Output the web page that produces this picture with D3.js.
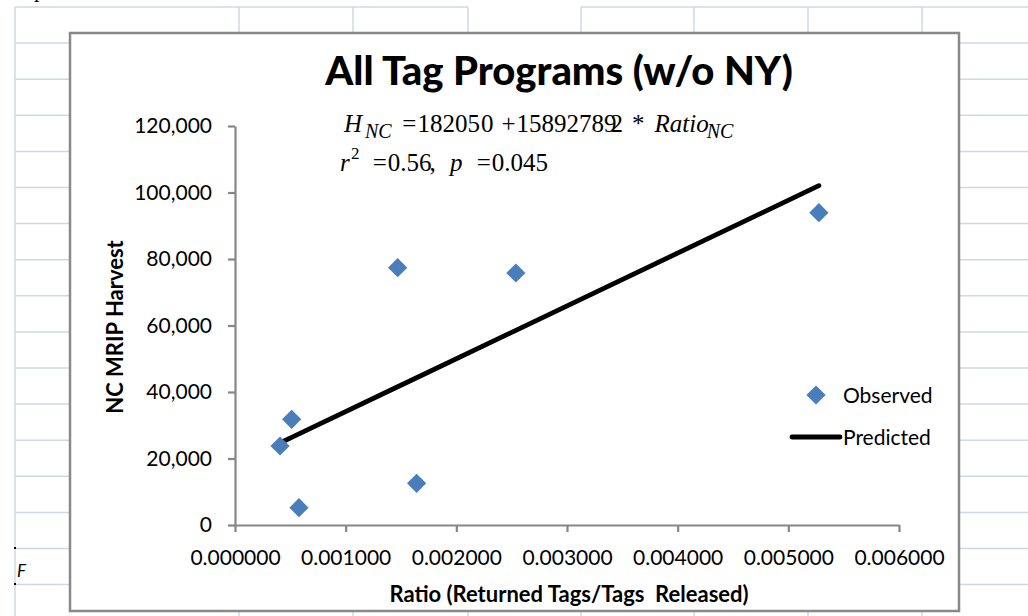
<!DOCTYPE html>
<html><head><meta charset="utf-8">
<script src="https://cdn.jsdelivr.net/npm/d3@7"></script>
<style>body{margin:0;background:#fff} svg{display:block}</style>
</head><body><svg id="c" width="1028" height="616"></svg>
<script>
// ---- data ----
const ratio     = [0.000407, 0.000512, 0.000578, 0.001470, 0.001641, 0.002538, 0.005276];
const harvest   = [23760, 31790, 5200, 77380, 12540, 75790, 93920];
const predicted = [24670, 26340, 27390, 41570, 44290, 58540, 102060];
const xTicks = [0, 0.001, 0.002, 0.003, 0.004, 0.005, 0.006];
const xTickLabels = ["0.000000","0.001000","0.002000","0.003000","0.004000","0.005000","0.006000"];
const yTicks = [0, 20000, 40000, 60000, 80000, 100000, 120000];
const yTickLabels = ["0","20,000","40,000","60,000","80,000","100,000","120,000"];
const title = "All Tag Programs (w/o NY)";
const xTitle = "Ratio (Returned Tags/Tags  Released)";
const yTitle = "NC MRIP Harvest";
const seriesNames = ["Observed", "Predicted"];

const svg = d3.select("#c");
const F = "Lato, 'Open Sans', sans-serif";
const gridC = "#d0d7e5";

// ---- spreadsheet background ----
const bg = svg.append("g").attr("stroke", gridC).attr("stroke-width", 1.5);
for (let k = 1; k <= 16; k++) {
  const yy = 7 + k * 36.1;
  bg.append("line").attr("x1", 15).attr("x2", 1028).attr("y1", yy).attr("y2", yy);
}
bg.append("line").attr("x1", 15).attr("x2", 468).attr("y1", 7).attr("y2", 7);
bg.append("line").attr("x1", 581).attr("x2", 1028).attr("y1", 7).attr("y2", 7);
[15, 239, 353, 468, 581, 694, 808, 922].forEach(xx =>
  bg.append("line").attr("x1", xx).attr("x2", xx).attr("y1", 7).attr("y2", 616));
svg.append("rect").attr("x", 14).attr("y", 547).attr("width", 2).attr("height", 2).attr("fill", "#000");
svg.append("rect").attr("x", 14).attr("y", 583).attr("width", 2).attr("height", 2).attr("fill", "#000");
svg.append("text").attr("x", 17).attr("y", 577).attr("font-family", F).attr("font-style", "italic")
  .attr("font-size", 17).attr("fill", "#000").text("F");
svg.append("text").attr("x", 34).attr("y", -3).attr("font-family", "'Liberation Serif', serif")
  .attr("font-size", 22).attr("fill", "#000").text("p");

// ---- chart area ----
svg.append("rect").attr("x", 70).attr("y", 33).attr("width", 889).attr("height", 578)
  .attr("fill", "#fff").attr("stroke", "#898989").attr("stroke-width", 2.5);

const x = d3.scaleLinear().domain([0, 0.006]).range([235, 899]);
const y = d3.scaleLinear().domain([0, 120000]).range([525, 126]);

const axisC = "#868686";
const gx = svg.append("g").attr("transform", `translate(0,${y(0)})`)
  .call(d3.axisBottom(x).tickValues(xTicks).tickSizeInner(7).tickSizeOuter(0)
    .tickPadding(18).tickFormat((d, i) => xTickLabels[i]));
const gy = svg.append("g").attr("transform", `translate(${x(0)},0)`)
  .call(d3.axisLeft(y).tickValues(yTicks).tickSizeInner(7).tickSizeOuter(0)
    .tickPadding(16).tickFormat((d, i) => yTickLabels[i]));
[gx, gy].forEach(g => {
  g.select(".domain").attr("stroke", axisC).attr("stroke-width", 2.2);
  g.selectAll(".tick line").attr("stroke", axisC).attr("stroke-width", 2.2);
  g.selectAll(".tick text").attr("font-family", F).attr("font-size", 21).attr("fill", "#000");
});

// title
svg.append("text").attr("x", 559).attr("y", 85).attr("text-anchor", "middle")
  .attr("font-family", F).attr("font-weight", 900).attr("font-size", 40).attr("fill", "#000").text(title);

// axis titles
svg.append("text").attr("x", 569).attr("y", 602).attr("text-anchor", "middle")
  .attr("font-family", F).attr("font-weight", "bold").attr("font-size", 22).attr("fill", "#000")
  .style("white-space", "pre").text(xTitle);
svg.append("text").attr("transform", "translate(123,327) rotate(-90)").attr("text-anchor", "middle")
  .attr("font-family", F).attr("font-weight", "bold").attr("font-size", 22).attr("fill", "#000").text(yTitle);

// equation (pieces placed in sequence; stretchable gaps fill the target width)
const serif = "'Liberation Serif', 'Times New Roman', serif";
function eqLine(x0, base, target, pieces) {
  const g = svg.append("g");
  const nodes = pieces.map(p => {
    const t = g.append("text").attr("y", base + (p.dy || 0)).attr("font-family", serif)
      .attr("font-size", p.fs || 25).attr("fill", "#000")
      .attr("font-style", p.it ? "italic" : "normal");
    if (Array.isArray(p.t)) {
      p.t.forEach((s, i) => t.append("tspan").attr("dx", i ? p.inner[i - 1] : 0).text(s));
    } else t.text(p.t);
    return { t, w: t.node().getBBox().width, p };
  });
  const natural = nodes.reduce((s, n) => s + n.w + (n.p.gap || 0), 0);
  const nStretch = nodes.filter(n => n.p.s).length;
  const extra = nStretch ? Math.max(0, (target - natural) / nStretch) : 0;
  let cx = x0;
  nodes.forEach(n => {
    cx += (n.p.gap || 0) + (n.p.s ? extra : 0);
    n.t.attr("x", cx);
    cx += n.w;
  });
}
eqLine(344, 132, 391, [
  { t: "H", it: true },
  { t: "NC", it: true, fs: 20, dy: 6, gap: 0 },
  { t: "=", gap: 3, s: true },
  { t: ["18205", "0"], inner: [1], gap: 1 },
  { t: "+", gap: 2, s: true },
  { t: ["15892789", "2"], inner: [-6], gap: 1 },
  { t: "*", gap: 3, s: true },
  { t: "Ratio", it: true, gap: 4, s: true },
  { t: "NC", it: true, fs: 20, dy: 6, gap: -3 }
]);
eqLine(340, 171, 208, [
  { t: "r", it: true },
  { t: "2", fs: 17, dy: -12, gap: 1 },
  { t: "=", gap: 3, s: true },
  { t: ["0.56", ","], inner: [-2], gap: 1 },
  { t: "p", it: true, gap: 4, s: true },
  { t: "=", gap: 2, s: true },
  { t: "0.045", gap: 1 }
]);

// predicted line
const pts = ratio.map((r, i) => [r, predicted[i]]);
svg.append("path").datum(pts)
  .attr("d", d3.line().x(d => x(d[0])).y(d => y(d[1])))
  .attr("fill", "none").attr("stroke", "#000").attr("stroke-width", 4.8).attr("stroke-linecap", "round");

// observed points
const blue = "#4a7ebb";
const sym = d3.symbol().type(d3.symbolSquare).size(185);
svg.append("g").selectAll("path").data(ratio.map((r, i) => [r, harvest[i]])).join("path")
  .attr("d", sym).attr("fill", blue)
  .attr("transform", d => `translate(${x(d[0])},${y(d[1])}) rotate(45)`);

// legend
svg.append("path").attr("d", sym).attr("fill", blue).attr("transform", "translate(816,395) rotate(45)");
svg.append("text").attr("x", 843).attr("y", 403).attr("font-family", F).attr("font-size", 21)
  .attr("fill", "#000").text(seriesNames[0]);
svg.append("line").attr("x1", 792).attr("x2", 840).attr("y1", 437).attr("y2", 437)
  .attr("stroke", "#000").attr("stroke-width", 4.8).attr("stroke-linecap", "round");
svg.append("text").attr("x", 843).attr("y", 445).attr("font-family", F).attr("font-size", 21)
  .attr("fill", "#000").text(seriesNames[1]);
</script></body></html>
